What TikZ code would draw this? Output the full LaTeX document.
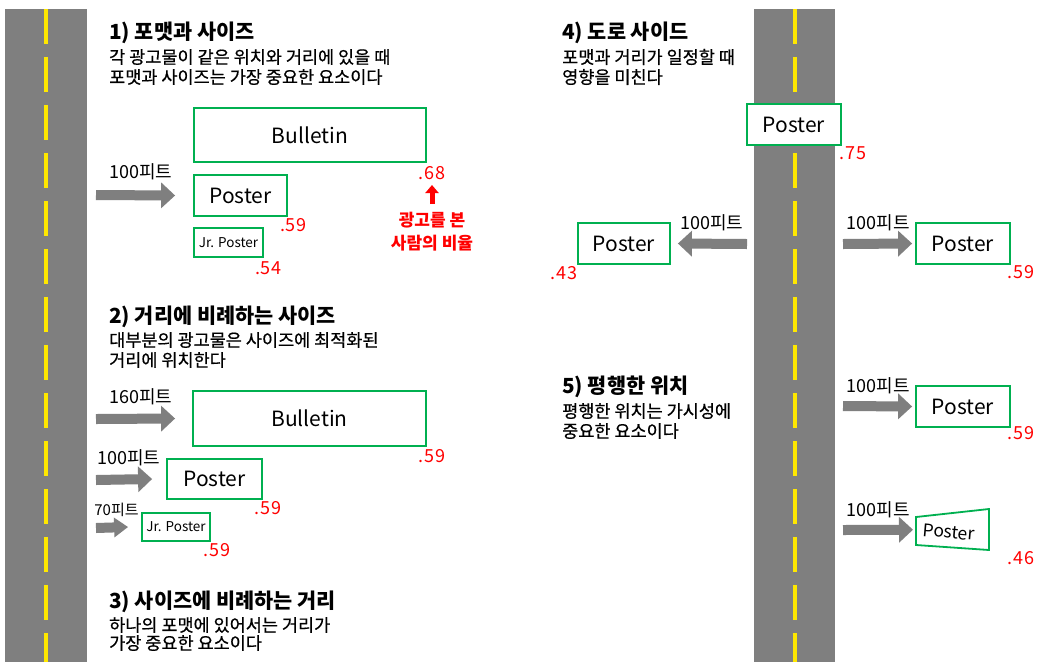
\documentclass[tikz,border=0pt]{standalone}
\usepackage{fontspec}
\setmainfont{Noto Sans CJK KR}
\newfontfamily\spacedfont{Noto Sans CJK KR}[LetterSpace=5]
\newfontfamily\bodyfont{Noto Sans CJK KR}[FakeBold=0.6]
\usetikzlibrary{arrows.meta}
\definecolor{roadgray}{HTML}{7F7F7F}
\definecolor{boxgreen}{HTML}{00B050}
\definecolor{lineyellow}{HTML}{FFE800}
\begin{document}
\begin{tikzpicture}[x=1pt,y=-1pt,
  roadline/.style={lineyellow, line width=4pt, dash pattern=on 35pt off 13pt},
  titletext/.style={anchor=west, inner sep=0pt, font=\bfseries\fontsize{20.8}{23}\selectfont},
  bodytext/.style={anchor=west, inner sep=0pt, font=\bodyfont\fontsize{17.5}{20}\selectfont},
  sign/.style={draw=boxgreen, line width=1.8pt, fill=white, inner sep=0pt, font=\fontsize{21}{24}\selectfont},
  smallsign/.style={sign, font=\fontsize{13.5}{15}\selectfont},
  dist/.style={inner sep=0pt, font=\fontsize{18}{20}\selectfont},
  smalldist/.style={inner sep=0pt, font=\fontsize{15}{17}\selectfont},
  val/.style={inner sep=0pt, text=red, font=\spacedfont\fontsize{18}{20}\selectfont},
  redlabel/.style={inner sep=0pt, text=red, font=\bfseries\fontsize{17}{19}\selectfont},
  garrow/.style={roadgray, line width=10pt, -{Triangle[width=25pt,length=14pt]}},
  sgarrow/.style={roadgray, line width=10pt, -{Triangle[width=19pt,length=14pt]}}
]
\useasboundingbox (0,0) rectangle (1040,662);
\fill[white] (0,0) rectangle (1040,662);

% roads
\fill[roadgray] (5,9) rectangle (87,662);
\draw[roadline] (46,9) -- (46,662);
\fill[roadgray] (754,9) rectangle (835,662);
\draw[roadline] (795,9) -- (795,662);

% section 1
\node[titletext] (t1) at (109,33) {1) 포맷과 사이즈};
\node[bodytext] (b1a) at (109,57) {각 광고물이 같은 위치와 거리에 있을 때};
\node[bodytext] (b1b) at (109,77) {포맷과 사이즈는 가장 중요한 요소이다};
\node[sign, minimum width=232pt, minimum height=54pt] (bul1) at (310,135) {Bulletin};
\node[sign, minimum width=93pt, minimum height=41pt] (pos1) at (240.5,195.5) {Poster};
\node[smallsign, minimum width=69pt, minimum height=29pt] (jr1) at (228.5,242.5) {Jr. Poster};
\node[dist] (d1) at (141,172) {100피트};
\coordinate (a1) at (96,195);
\draw[garrow] (a1) -- ([xshift=-18pt]pos1.west);
\node[val] (v1) at (432,173) {.68};
\node[val] (v2) at (293.5,225) {.59};
\node[val] (v3) at (268.5,268) {.54};
\coordinate (ra1) at (432,204);
\coordinate (ra2) at (432,185);
\draw[red, line width=5pt, -{Triangle[width=13pt,length=8pt]}] (ra1) -- (ra2);
\node[redlabel] (lg1) at (432,220) {광고를 본};
\node[redlabel] (lg2) at (432,243) {사람의 비율};

% section 2
\node[titletext] (t2) at (109,317) {2) 거리에 비례하는 사이즈};
\node[bodytext] (b2a) at (109,340) {대부분의 광고물은 사이즈에 최적화된};
\node[bodytext] (b2b) at (109,360) {거리에 위치한다};
\node[sign, minimum width=233pt, minimum height=55pt] (bul2) at (309.5,418.5) {Bulletin};
\node[sign, minimum width=95pt, minimum height=40pt] (pos2) at (214.5,479) {Poster};
\node[smallsign, minimum width=68pt, minimum height=28pt] (jr2) at (176,527) {Jr. Poster};
\node[dist] (d2) at (141,397) {160피트};
\node[dist] (d3) at (129,458) {100피트};
\node[smalldist] (d4) at (116.5,510) {70피트};
\coordinate (a2) at (96,419);
\coordinate (a3) at (96,480);
\coordinate (a4) at (96,528);
\draw[garrow] (a2) -- ([xshift=-17pt]bul2.west);
\draw[garrow] (a3) -- ([xshift=-14pt]pos2.west);
\draw[sgarrow] (a4) -- ([xshift=-13pt]jr2.west);
\node[val] (v4) at (432,456) {.59};
\node[val] (v5) at (268,508) {.59};
\node[val] (v6) at (217,550) {.59};

% section 3
\node[titletext] (t3) at (109,602) {3) 사이즈에 비례하는 거리};
\node[bodytext] (b3a) at (109,625) {하나의 포맷에 있어서는 거리가};
\node[bodytext] (b3b) at (109,643) {가장 중요한 요소이다};

% section 4
\node[titletext] (t4) at (562,33) {4) 도로 사이드};
\node[bodytext] (b4a) at (562,57) {포맷과 거리가 일정할 때};
\node[bodytext] (b4b) at (562,77) {영향을 미친다};
\node[sign, minimum width=94pt, minimum height=41pt] (pos4t) at (794,124.5) {Poster};
\node[sign, minimum width=92pt, minimum height=41pt] (pos4l) at (624,243.5) {Poster};
\node[sign, minimum width=94pt, minimum height=41pt] (pos4r) at (963,243.5) {Poster};
\node[val] (v7) at (853,153) {.75};
\node[val] (v8) at (564,273) {.43};
\node[val] (v9) at (1021,272) {.59};
\node[dist] (d5) at (712,223) {100피트};
\node[dist] (d6) at (878.5,223) {100피트};
\coordinate (a5) at (747,244);
\coordinate (a6) at (843,244);
\draw[garrow] (a5) -- ([xshift=7pt]pos4l.east);
\draw[garrow] (a6) -- ([xshift=-3pt]pos4r.west);

% section 5
\node[titletext] (t5) at (562,387) {5) 평행한 위치};
\node[bodytext] (b5a) at (562,411) {평행한 위치는 가시성에};
\node[bodytext] (b5b) at (562,431) {중요한 요소이다};
\node[sign, minimum width=94pt, minimum height=41pt] (pos5) at (963,406.5) {Poster};
\node[val] (v10) at (1021,433) {.59};
\node[dist] (d7) at (878.5,386) {100피트};
\coordinate (a7) at (843,406);
\draw[garrow] (a7) -- ([xshift=-3pt]pos5.west);
\coordinate (tr1) at (916,517);
\coordinate (tr2) at (989,509);
\coordinate (tr3) at (989,550);
\coordinate (tr4) at (916,545);
\fill[white] (tr1) -- (tr2) -- (tr3) -- (tr4) -- cycle;
\draw[boxgreen, line width=1.8pt] (tr1) -- (tr2) -- (tr3) -- (tr4) -- cycle;
\node[inner sep=0pt, rotate=-5, font=\fontsize{17.5}{19}\selectfont] (pos5s) at (949,532) {Poster};
\node[val] (v11) at (1021,558) {.46};
\node[dist] (d8) at (878.5,510) {100피트};
\coordinate (a8) at (843,530);
\draw[garrow] (a8) -- ([xshift=-3pt]pos5s.west -| tr1);
\end{tikzpicture}
\end{document}
